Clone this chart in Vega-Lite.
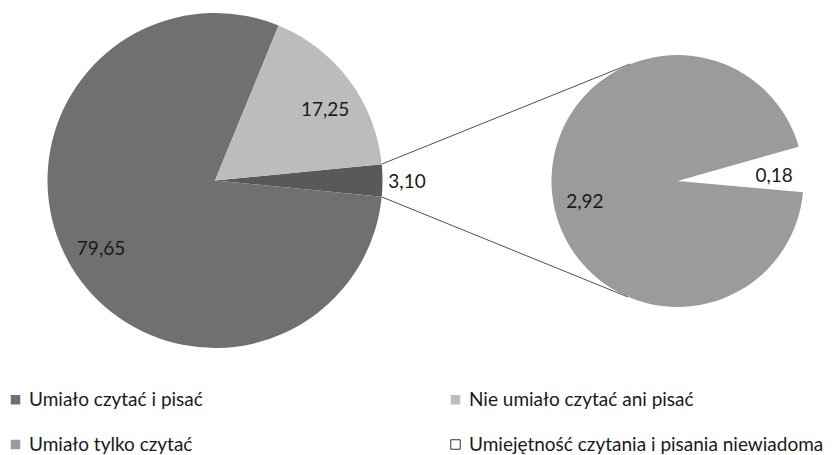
{
  "$schema": "https://vega.github.io/schema/vega-lite/v6.json",
  "width": 840,
  "height": 455,
  "autosize": "none",
  "padding": 0,
  "config": {
    "view": {"stroke": null},
    "font": "Lato",
    "locale": {"number": {"decimal": ",", "thousands": " ", "grouping": [3], "currency": ["", " zł"]}},
    "text": {"font": "Lato", "fontSize": 19, "color": "#1a1a1a"}
  },
  "datasets": {
    "glowny": [
      {"kategoria": "Inne", "wartosc": 3.10, "kolejnosc": 1},
      {"kategoria": "Umiało czytać i pisać", "wartosc": 79.65, "kolejnosc": 2},
      {"kategoria": "Nie umiało czytać ani pisać", "wartosc": 17.25, "kolejnosc": 3}
    ],
    "szczegoly": [
      {"kategoria": "Umiejętność czytania i pisania niewiadoma", "wartosc": 0.18, "kolejnosc": 1},
      {"kategoria": "Umiało tylko czytać", "wartosc": 2.92, "kolejnosc": 2}
    ]
  },
  "layer": [
    {
      "data": {"values": [{}]},
      "mark": {"type": "rule", "color": "#505050", "strokeWidth": 1},
      "encoding": {
        "x": {"datum": 381.7, "type": "quantitative", "scale": {"domain": [0, 840], "nice": false, "zero": false}, "axis": null},
        "y": {"datum": 164.1, "type": "quantitative", "scale": {"domain": [455, 0], "nice": false, "zero": false}, "axis": null},
        "x2": {"datum": 630},
        "y2": {"datum": 64}
      }
    },
    {
      "data": {"values": [{}]},
      "mark": {"type": "rule", "color": "#505050", "strokeWidth": 1},
      "encoding": {
        "x": {"datum": 381.7, "type": "quantitative", "scale": {"domain": [0, 840], "nice": false, "zero": false}, "axis": null},
        "y": {"datum": 196.9, "type": "quantitative", "scale": {"domain": [455, 0], "nice": false, "zero": false}, "axis": null},
        "x2": {"datum": 628},
        "y2": {"datum": 297}
      }
    },
    {
      "data": {"name": "glowny"},
      "encoding": {
        "theta": {"field": "wartosc", "type": "quantitative", "stack": true, "scale": {"range": [1.4734, 7.7566]}},
        "order": {"field": "kolejnosc", "type": "quantitative"},
        "x": {"datum": 215, "type": "quantitative", "scale": {"domain": [0, 840], "nice": false, "zero": false}, "axis": null},
        "y": {"datum": 180.5, "type": "quantitative", "scale": {"domain": [455, 0], "nice": false, "zero": false}, "axis": null}
      },
      "layer": [
        {
          "mark": {"type": "arc", "outerRadius": 167.5},
          "encoding": {
            "color": {
              "field": "kategoria",
              "type": "nominal",
              "scale": {
                "domain": ["Umiało czytać i pisać", "Nie umiało czytać ani pisać", "Umiało tylko czytać", "Umiejętność czytania i pisania niewiadoma", "Inne"],
                "range": ["#6e7072", "#bbbdbd", "#999b9c", "#ffffff", "#58595b"]
              },
              "legend": {
                "title": null,
                "values": ["Umiało czytać i pisać", "Nie umiało czytać ani pisać", "Umiało tylko czytać", "Umiejętność czytania i pisania niewiadoma"],
                "orient": "none",
                "legendX": 6,
                "legendY": 390,
                "direction": "horizontal",
                "columns": 2,
                "columnPadding": 243,
                "rowPadding": 25,
                "padding": 0,
                "symbolType": "square",
                "symbolSize": 90,
                "symbolStrokeWidth": 0,
                "labelFont": "Lato",
                "labelFontSize": 19,
                "labelColor": "#1a1a1a",
                "labelOffset": 4,
                "labelLimit": 500,
                "encode": {
                  "symbols": {
                    "update": {
                      "stroke": [
                        {"test": "datum.value === 'Umiejętność czytania i pisania niewiadoma'", "value": "#333333"},
                        {"value": "transparent"}
                      ],
                      "strokeWidth": {"value": 1}
                    }
                  }
                }
              }
            }
          }
        },
        {
          "mark": {"type": "text", "radius": 133, "align": "center", "baseline": "middle"},
          "encoding": {
            "text": {"condition": {"test": "datum.kategoria === 'Umiało czytać i pisać'", "field": "wartosc", "type": "quantitative", "format": ".2f"}, "value": ""}
          }
        },
        {
          "mark": {"type": "text", "radius": 131, "align": "center", "baseline": "middle", "dx": 5, "dy": 8},
          "encoding": {
            "text": {"condition": {"test": "datum.kategoria === 'Nie umiało czytać ani pisać'", "field": "wartosc", "type": "quantitative", "format": ".2f"}, "value": ""}
          }
        },
        {
          "mark": {"type": "text", "radius": 192, "align": "center", "baseline": "middle", "dy": 2},
          "encoding": {
            "text": {"condition": {"test": "datum.kategoria === 'Inne'", "field": "wartosc", "type": "quantitative", "format": ".2f"}, "value": ""}
          }
        }
      ]
    },
    {
      "data": {"name": "szczegoly"},
      "encoding": {
        "theta": {"field": "wartosc", "type": "quantitative", "stack": true, "scale": {"range": [1.2950, 7.5782]}},
        "order": {"field": "kolejnosc", "type": "quantitative"},
        "x": {"datum": 677.5, "type": "quantitative", "scale": {"domain": [0, 840], "nice": false, "zero": false}, "axis": null},
        "y": {"datum": 181, "type": "quantitative", "scale": {"domain": [455, 0], "nice": false, "zero": false}, "axis": null}
      },
      "layer": [
        {
          "mark": {"type": "arc", "outerRadius": 126},
          "encoding": {
            "color": {"field": "kategoria", "type": "nominal"}
          }
        },
        {
          "mark": {"type": "text", "radius": 93, "align": "center", "baseline": "middle", "dy": 12},
          "encoding": {
            "text": {"condition": {"test": "datum.kategoria === 'Umiało tylko czytać'", "field": "wartosc", "type": "quantitative", "format": ".2f"}, "value": ""}
          }
        },
        {
          "mark": {"type": "text", "radius": 97, "align": "center", "baseline": "middle", "dy": 4},
          "encoding": {
            "text": {"condition": {"test": "datum.kategoria === 'Umiejętność czytania i pisania niewiadoma'", "field": "wartosc", "type": "quantitative", "format": ".2f"}, "value": ""}
          }
        }
      ]
    }
  ],
  "resolve": {"scale": {"theta": "independent"}}
}
